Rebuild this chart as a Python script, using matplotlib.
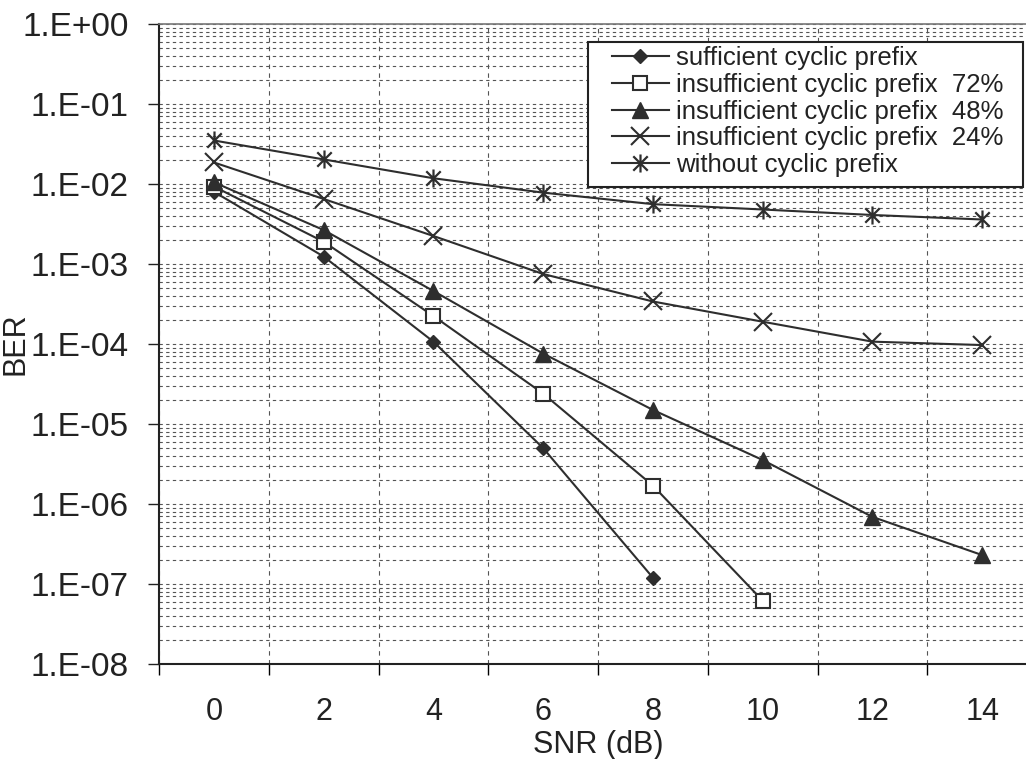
import numpy as np
import matplotlib
matplotlib.use("Agg")
import matplotlib.pyplot as plt
from matplotlib.path import Path
from matplotlib.patches import Rectangle
from matplotlib.ticker import FixedLocator, FuncFormatter, LogLocator, NullFormatter

snr = [0, 2, 4, 6, 8, 10, 12, 14]
ber_sufficient = [8.0e-3, 1.24e-3, 1.07e-4, 5.0e-6, 1.2e-7]
ber_cp72 = [9.3e-3, 1.9e-3, 2.24e-4, 2.4e-5, 1.7e-6, 6.2e-8]
ber_cp48 = [1.05e-2, 2.66e-3, 4.6e-4, 7.6e-5, 1.5e-5, 3.55e-6, 6.9e-7, 2.3e-7]
ber_cp24 = [1.86e-2, 6.5e-3, 2.24e-3, 7.5e-4, 3.4e-4, 1.9e-4, 1.07e-4, 9.7e-5]
ber_nocp = [3.5e-2, 2.03e-2, 1.18e-2, 7.8e-3, 5.6e-3, 4.8e-3, 4.1e-3, 3.6e-3]
labels = ['sufficient cyclic prefix',
          'insufficient cyclic prefix  72%',
          'insufficient cyclic prefix  48%',
          'insufficient cyclic prefix  24%',
          'without cyclic prefix']

plt.rcParams['font.family'] = ['Liberation Sans', 'DejaVu Sans']

# asterisk marker like excel: x plus vertical bar
star = Path([(-1, -1), (1, 1), (-1, 1), (1, -1), (0, -1.25), (0, 1.25)],
            [Path.MOVETO, Path.LINETO, Path.MOVETO, Path.LINETO, Path.MOVETO, Path.LINETO])

W, H = 1026, 759
fig = plt.figure(figsize=(W/100, H/100), dpi=100)
ax = fig.add_axes([159/W, 1-664/H, 878/W, 640/H])

lc = '#2e2e2e'
pos = np.arange(len(snr))
ax.plot(pos[:len(ber_sufficient)], ber_sufficient, color=lc, lw=1.5, marker='D', ms=7.5, mfc=lc, mec=lc, label=labels[0])
ax.plot(pos[:len(ber_cp72)], ber_cp72, color=lc, lw=1.5, marker='s', ms=10, mfc='white', mec=lc, mew=1.5, label=labels[1])
ax.plot(pos, ber_cp48, color=lc, lw=1.5, marker='^', ms=11, mfc=lc, mec=lc, label=labels[2])
ax.plot(pos, ber_cp24, color=lc, lw=1.5, marker='x', ms=13, mec=lc, mew=1.5, label=labels[3])
ax.plot(pos, ber_nocp, color=lc, lw=1.5, marker=star, ms=13, mfc='none', mec=lc, mew=1.6, label=labels[4])

ax.set_yscale('log')
ax.set_ylim(1e-8, 1)
ax.set_xlim(-0.5, len(snr) - 0.5)

ax.yaxis.set_major_locator(LogLocator(base=10, numticks=20))
ax.yaxis.set_minor_locator(LogLocator(base=10, subs=np.arange(2, 10), numticks=20))
ax.yaxis.set_minor_formatter(NullFormatter())
ax.yaxis.set_major_formatter(FuncFormatter(lambda v, p: "1.E%+03d" % int(round(np.log10(v)))))
ax.tick_params(axis='y', which='major', direction='out', length=8, width=1, labelsize=24, pad=14, colors='#222')
ax.tick_params(axis='y', which='minor', length=0)

ax.set_xticks(pos)
ax.set_xticklabels([str(s) for s in snr], fontsize=22)
ax.xaxis.set_minor_locator(FixedLocator(np.arange(-0.5, len(snr), 1.0)))
ax.xaxis.set_minor_formatter(NullFormatter())
ax.tick_params(axis='x', which='major', length=0, pad=24, colors='#222')
ax.tick_params(axis='x', which='minor', direction='out', length=8, width=1)

ax.grid(axis='y', which='both', color='#555555', lw=0.8, ls=(0, (3, 3)))
ax.grid(axis='x', which='minor', color='#555555', lw=0.8, ls=(0, (4, 4)))
ax.set_axisbelow(True)

for s in ['left', 'bottom']:
    ax.spines[s].set_color('#222')
    ax.spines[s].set_linewidth(1.5)
ax.spines['top'].set_color('#777')
ax.spines['top'].set_linewidth(1.2)
ax.spines['right'].set_visible(False)

ax.set_xlabel('SNR (dB)', fontsize=22, color='#222')
ax.xaxis.set_label_coords(0.5, -(745-664)/640)
ax.xaxis.label.set_va('center')
ax.set_ylabel('BER', fontsize=22, color='#222')
ax.yaxis.set_label_coords(-(159-16)/878, 0.5)
ax.yaxis.label.set_va('center')

# legend box drawn separately so the padding matches the excel one
box = Rectangle((588/W, 1-187/H), 435/W, 145/H, transform=fig.transFigure, clip_on=False,
                facecolor='white', edgecolor='#222', lw=1.5, zorder=4)
ax.add_patch(box)
leg = ax.legend(loc='upper left', bbox_to_anchor=(612/W, 1-46/H), bbox_transform=fig.transFigure,
                fontsize=18.5, frameon=False, borderaxespad=0, borderpad=0,
                handlelength=2.2, handletextpad=0.3, labelspacing=0.11)
leg.set_zorder(5)
for t in leg.get_texts():
    t.set_color('#222')

fig.savefig('out.png', dpi=100)
